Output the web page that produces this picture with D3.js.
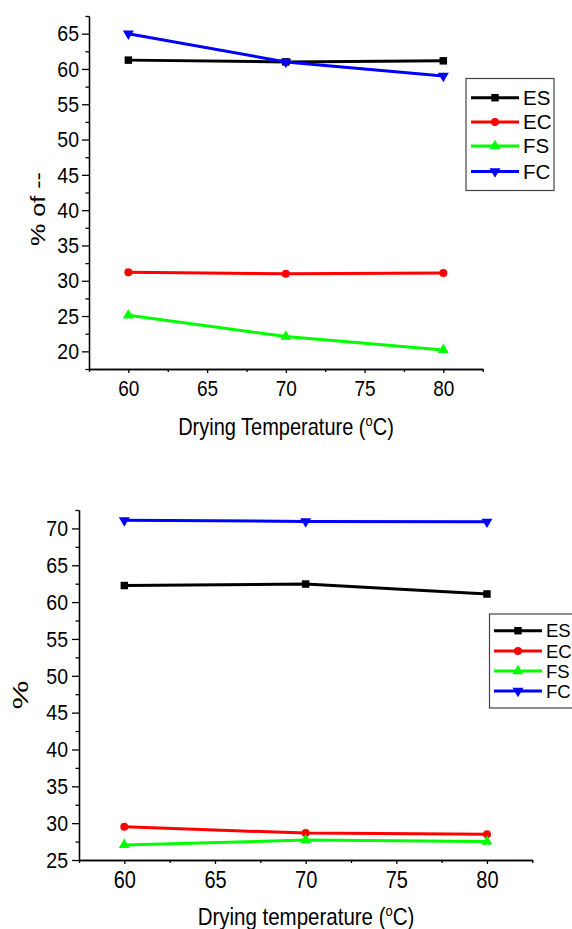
<!DOCTYPE html>
<html lang="en">
<head>
<meta charset="UTF-8">
<title>Drying temperature charts</title>
<script src="https://d3js.org/d3.v7.min.js"></script>
<style>
  body { margin: 0; padding: 0; background: #fff; overflow: hidden; }
  svg { display: block; font-family: "Liberation Sans", Arial, sans-serif; }
  .axis path, .axis line { stroke: #000; stroke-width: 1.3px; }
  .axis text { fill: #000; }
  .legend-box { fill: #fff; stroke: #444; stroke-width: 1.2px; }
</style>
</head>
<body>
<svg id="chart" width="572" height="929"></svg>
<script>
// temperatures (x categories)
var temps = [60, 70, 80];
var seriesNames = ['ES', 'EC', 'FS', 'FC'];

// top chart values (% of --)
var topES = [61.25, 61.0, 61.15];
var topEC = [31.2, 31.0, 31.1];
var topFS = [25.1, 22.1, 20.2];
var topFC = [65.0, 61.0, 59.0];

// bottom chart values (%)
var botES = [62.25, 62.45, 61.1];
var botEC = [29.5, 28.65, 28.5];
var botFS = [27.05, 27.7, 27.5];
var botFC = [71.1, 70.95, 70.9];

var xTicks = [60, 65, 70, 75, 80];
var xMinor = [57.5, 62.5, 67.5, 72.5, 77.5, 82.5];
var topYTicks = [20, 25, 30, 35, 40, 45, 50, 55, 60, 65];
var topYMinor = [17.5, 22.5, 27.5, 32.5, 37.5, 42.5, 47.5, 52.5, 57.5, 62.5, 67.5];
var botYTicks = [25, 30, 35, 40, 45, 50, 55, 60, 65, 70];
var botYMinor = [27.5, 32.5, 37.5, 42.5, 47.5, 52.5, 57.5, 62.5, 67.5, 72.5];

var colors = { ES: '#000000', EC: '#ff0000', FS: '#00ff00', FC: '#0000ff' };
var symbols = {
  ES: d3.symbol().type(d3.symbolSquare).size(56),
  EC: d3.symbol().type(d3.symbolCircle).size(50),
  FS: d3.symbol().type(d3.symbolTriangle).size(52),
  FC: d3.symbol().type(d3.symbolTriangle).size(52)
};

// the original picture is a bit stretched vertically, text too
var SY = 1.16;

var svg = d3.select('#chart');

// stretch a text node vertically around its own anchor point
function stretch(sel) {
  sel.each(function() {
    var el = d3.select(this);
    var x = +el.attr('x') || 0, y = +el.attr('y') || 0;
    el.attr('x', null).attr('y', null)
      .attr('transform', 'translate(' + x + ',' + y + ') scale(1,' + SY + ')');
  });
}

function drawPanel(cfg) {
  var x = d3.scaleLinear().domain([57.5, 82.5]).range(cfg.xRange);
  var y = d3.scaleLinear().domain(cfg.yDomain).range(cfg.yRange);
  var g = svg.append('g');

  // x axis: minor then major ticks
  g.append('g').attr('class', 'axis')
    .attr('transform', 'translate(0,' + cfg.yRange[0] + ')')
    .call(d3.axisBottom(x).tickValues(xMinor).tickFormat('').tickSize(3).tickSizeOuter(0));
  g.append('g').attr('class', 'axis')
    .attr('transform', 'translate(0,' + cfg.yRange[0] + ')')
    .call(d3.axisBottom(x).tickValues(xTicks).tickSize(4).tickSizeOuter(0).tickPadding(cfg.xPad))
    .call(function(a) { a.selectAll('text').style('font-size', cfg.xFont + 'px').call(stretch); });

  // y axis
  g.append('g').attr('class', 'axis')
    .attr('transform', 'translate(' + cfg.xRange[0] + ',0)')
    .call(d3.axisLeft(y).tickValues(cfg.yMinor).tickFormat('').tickSize(3.5).tickSizeOuter(0));
  g.append('g').attr('class', 'axis')
    .attr('transform', 'translate(' + cfg.xRange[0] + ',0)')
    .call(d3.axisLeft(y).tickValues(cfg.yTicks).tickSize(7).tickSizeOuter(0).tickPadding(cfg.yPad))
    .call(function(a) { a.selectAll('text').style('font-size', '19.5px').call(stretch); });

  // axis titles
  var t = g.append('text')
    .attr('x', cfg.titleX).attr('y', cfg.titleY)
    .attr('text-anchor', 'middle')
    .style('font-size', cfg.titleFont + 'px');
  t.append('tspan').text(cfg.titleText + ' (');
  t.append('tspan').attr('dy', -8).style('font-size', '13px').text('o');
  t.append('tspan').attr('dy', 8).text('C)');
  t.call(stretch);

  g.append('text')
    .attr('transform', 'translate(' + cfg.yLabelX + ',' + cfg.yLabelY + ') rotate(-90)')
    .attr('text-anchor', 'middle')
    .attr('textLength', cfg.yLabelLen)
    .attr('lengthAdjust', 'spacingAndGlyphs')
    .style('font-size', cfg.yLabelFont + 'px')
    .text(cfg.yLabel);

  // series
  var line = d3.line().x(function(d) { return x(d.t); }).y(function(d) { return y(d.v); });
  cfg.series.forEach(function(vals, i) {
    var name = seriesNames[i];
    var pts = temps.map(function(tt, j) { return { t: tt, v: vals[j] }; });
    g.append('path').datum(pts)
      .attr('d', line)
      .attr('fill', 'none')
      .attr('stroke', colors[name])
      .attr('stroke-width', 3);
    g.selectAll('.m' + name).data(pts).enter().append('path')
      .attr('d', symbols[name])
      .attr('fill', colors[name])
      .attr('transform', function(d) {
        return 'translate(' + x(d.t) + ',' + y(d.v) + ')' + (name === 'FC' ? ' rotate(180)' : '');
      });
  });

  // legend
  var L = cfg.legend;
  g.append('rect').attr('class', 'legend-box')
    .attr('x', L.x).attr('y', L.y).attr('width', L.w).attr('height', L.h);
  seriesNames.forEach(function(name, i) {
    var yy = L.rows[i];
    g.append('line')
      .attr('x1', L.lx1).attr('x2', L.lx2).attr('y1', yy).attr('y2', yy)
      .attr('stroke', colors[name]).attr('stroke-width', 3);
    g.append('path').attr('d', symbols[name]).attr('fill', colors[name])
      .attr('transform', 'translate(' + (L.lx1 + L.lx2) / 2 + ',' + yy + ')' + (name === 'FC' ? ' rotate(180)' : ''));
    g.append('text').attr('x', L.tx).attr('y', yy).attr('dy', '0.36em')
      .style('font-size', L.font + 'px').text(name);
  });
}

drawPanel({
  xRange: [89, 482.7], yDomain: [17.5, 67.5], yRange: [369, 16],
  yTicks: topYTicks, yMinor: topYMinor, xFont: 19, xPad: 7, yPad: 3,
  titleText: 'Drying Temperature', titleX: 286, titleY: 435, titleFont: 20,
  yLabel: '% of --', yLabelX: 45, yLabelY: 209, yLabelLen: 74, yLabelFont: 20,
  series: [topES, topEC, topFS, topFC],
  legend: { x: 466, y: 78.5, w: 88, h: 112, rows: [97.7, 122, 146, 171.5],
            lx1: 471, lx2: 519, tx: 523, font: 20.5 }
});

drawPanel({
  xRange: [79, 532.3], yDomain: [25, 72.5], yRange: [860, 510],
  yTicks: botYTicks, yMinor: botYMinor, xFont: 20, xPad: 8, yPad: 4,
  titleText: 'Drying temperature', titleX: 306, titleY: 925, titleFont: 20.5,
  yLabel: '%', yLabelX: 28, yLabelY: 695, yLabelLen: 29, yLabelFont: 22,
  series: [botES, botEC, botFS, botFC],
  legend: { x: 489.5, y: 614, w: 100, h: 94, rows: [630.7, 651, 671, 691],
            lx1: 494, lx2: 542, tx: 546, font: 18.5 }
});
</script>
</body>
</html>
